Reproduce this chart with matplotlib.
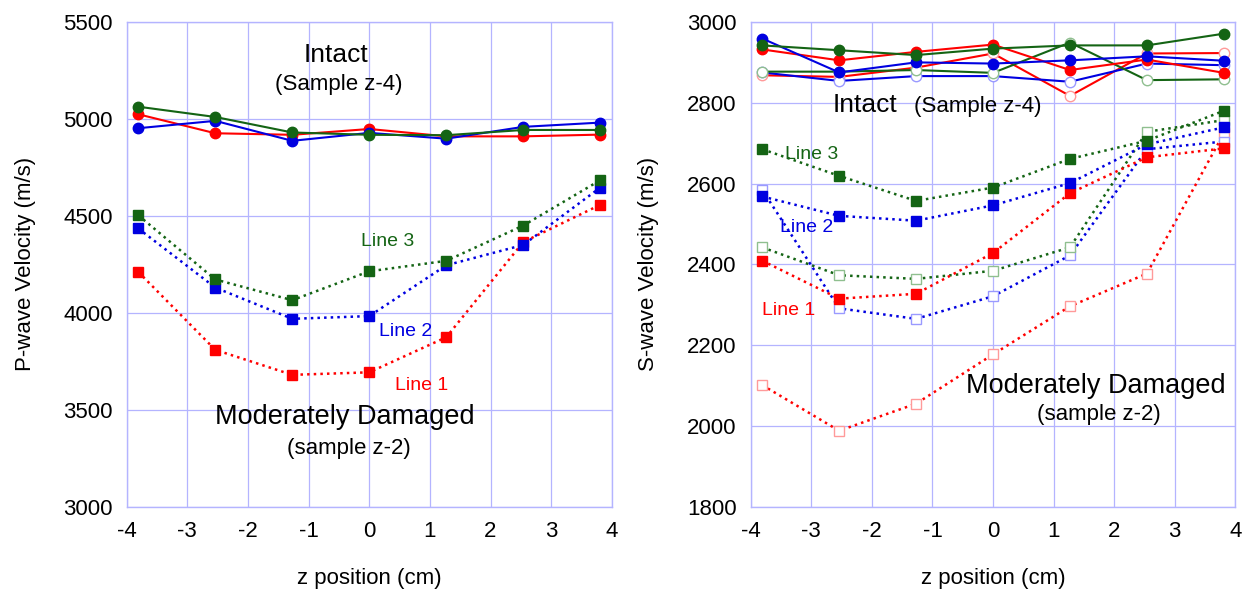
# P-wave and S-wave velocity profiles, intact vs moderately damaged sample

import matplotlib.pyplot as plt

plt.rcParams["font.family"] = ["Liberation Sans", "DejaVu Sans"]
plt.rcParams["axes.unicode_minus"] = False

z = [-3.81, -2.54, -1.27, 0.0, 1.27, 2.54, 3.81]

# P-wave, intact (sample z-4)
p_int_red = [5024, 4926, 4918, 4948, 4910, 4910, 4919]
p_int_blue = [4952, 4990, 4887, 4928, 4898, 4959, 4981]
p_int_green = [5063, 5010, 4930, 4918, 4916, 4943, 4943]

# P-wave, moderately damaged (sample z-2)
p_dam_red = [4211, 3809, 3680, 3693, 3874, 4365, 4557]
p_dam_blue = [4435, 4130, 3969, 3983, 4245, 4350, 4646]
p_dam_green = [4503, 4172, 4065, 4214, 4268, 4450, 4684]

# S-wave, intact, filled and open symbols
s_int_red = [2932, 2905, 2926, 2944, 2881, 2907, 2874]
s_int_red_o = [2868, 2864, 2887, 2922, 2817, 2922, 2923]
s_int_blue = [2959, 2875, 2900, 2897, 2905, 2915, 2904]
s_int_blue_o = [2875, 2854, 2866, 2866, 2852, 2897, 2893]
s_int_green = [2942, 2930, 2918, 2934, 2942, 2942, 2971]
s_int_green_o = [2877, 2877, 2881, 2874, 2949, 2856, 2858]

# S-wave, damaged, filled and open symbols
s_dam_red = [2409, 2315, 2327, 2428, 2576, 2665, 2687]
s_dam_red_o = [2101, 1988, 2055, 2177, 2296, 2377, 2724]
s_dam_blue = [2568, 2520, 2508, 2546, 2601, 2697, 2739]
s_dam_blue_o = [2584, 2291, 2265, 2321, 2422, 2685, 2704]
s_dam_green = [2685, 2619, 2557, 2590, 2661, 2706, 2780]
s_dam_green_o = [2442, 2373, 2364, 2384, 2442, 2728, 2757]

RED = "#ff0000"
BLUE = "#0000e0"
GREEN = "#146414"
RED_L = "#ff9a9a"
BLUE_L = "#9a9aff"
GREEN_L = "#8fbf8f"
GRID = "#b4b4ff"

fig = plt.figure(figsize=(12.45, 5.92), dpi=100)
ax1 = fig.add_axes([0.1018, 0.1441, 0.3896, 0.8188])
ax2 = fig.add_axes([0.6030, 0.1441, 0.3892, 0.8188])


def style(ax):
    ax.grid(True, color=GRID, linewidth=0.9)
    ax.set_axisbelow(True)
    for s in ax.spines.values():
        s.set_color(GRID)
        s.set_linewidth(1.0)
    ax.tick_params(length=0, labelsize=16, pad=10)
    ax.set_xlim(-4, 4)
    ax.set_xticks(range(-4, 5))
    ax.set_xlabel("z position (cm)", fontsize=16, labelpad=19)


# left panel
for vals, c in [(p_int_red, RED), (p_int_blue, BLUE), (p_int_green, GREEN)]:
    ax1.plot(z, vals, "-", color=c, marker="o", ms=7.5, lw=1.5)
for vals, c in [(p_dam_red, RED), (p_dam_blue, BLUE), (p_dam_green, GREEN)]:
    ax1.plot(z, vals, ":", color=c, marker="s", ms=7, lw=1.8)

style(ax1)
ax1.set_ylim(3000, 5500)
ax1.set_yticks(range(3000, 5501, 500))
ax1.set_ylabel("P-wave Velocity (m/s)", fontsize=16, labelpad=20)

ax1.text(-0.55, 5330, "Intact", fontsize=19, ha="center", va="center")
ax1.text(-0.51, 5175, "(Sample z-4)", fontsize=16, ha="center", va="center")
ax1.text(-0.40, 3463, "Moderately Damaged", fontsize=19.5, ha="center", va="center")
ax1.text(-0.34, 3298, "(sample z-2)", fontsize=16, ha="center", va="center")
ax1.text(0.30, 4370, "Line 3", fontsize=14, color=GREEN, ha="center", va="center")
ax1.text(0.60, 3906, "Line 2", fontsize=14, color=BLUE, ha="center", va="center")
ax1.text(0.87, 3623, "Line 1", fontsize=14, color=RED, ha="center", va="center")

# right panel
for vals, c, cl, filled in [
    (s_int_red_o, RED, RED_L, False), (s_int_blue_o, BLUE, BLUE_L, False),
    (s_int_green_o, GREEN, GREEN_L, False),
    (s_int_red, RED, RED, True), (s_int_blue, BLUE, BLUE, True),
    (s_int_green, GREEN, GREEN, True),
]:
    ax2.plot(z, vals, "-", color=c, marker="o", ms=7.5, lw=1.5,
             mfc=c if filled else "white", mec=cl, mew=1.0)

for vals, c, cl, filled in [
    (s_dam_red_o, RED, RED_L, False), (s_dam_blue_o, BLUE, BLUE_L, False),
    (s_dam_green_o, GREEN, GREEN_L, False),
    (s_dam_red, RED, RED, True), (s_dam_blue, BLUE, BLUE, True),
    (s_dam_green, GREEN, GREEN, True),
]:
    ax2.plot(z, vals, ":", color=c, marker="s", ms=7, lw=1.8,
             mfc=c if filled else "white", mec=cl, mew=1.0)

style(ax2)
ax2.set_ylim(1800, 3000)
ax2.set_yticks(range(1800, 3001, 200))
ax2.set_ylabel("S-wave Velocity (m/s)", fontsize=16, labelpad=20)

ax2.text(-2.11, 2794, "Intact", fontsize=19, ha="center", va="center")
ax2.text(-0.26, 2790, "(Sample z-4)", fontsize=16, ha="center", va="center")
ax2.text(1.70, 2099, "Moderately Damaged", fontsize=19.5, ha="center", va="center")
ax2.text(1.75, 2027, "(sample z-2)", fontsize=16, ha="center", va="center")
ax2.text(-2.99, 2671, "Line 3", fontsize=14, color=GREEN, ha="center", va="center")
ax2.text(-3.07, 2491, "Line 2", fontsize=14, color=BLUE, ha="center", va="center")
ax2.text(-3.38, 2285, "Line 1", fontsize=14, color=RED, ha="center", va="center")

fig.savefig("out.png", dpi=100)
